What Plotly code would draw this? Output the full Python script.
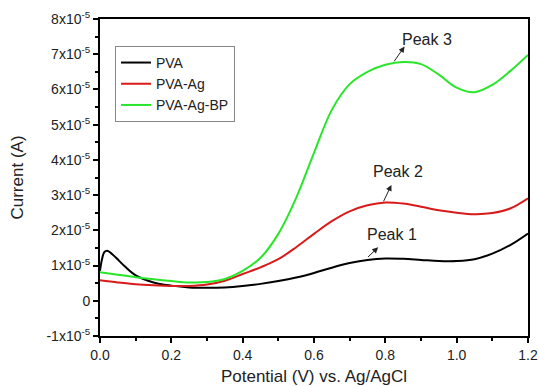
import plotly.graph_objects as go

# Current values are in units of 1e-5 A
pva_v = [0, 0.005, 0.012, 0.02, 0.03, 0.045, 0.07, 0.1, 0.15, 0.2, 0.25, 0.3, 0.35, 0.4, 0.45, 0.5, 0.55, 0.6, 0.65, 0.7, 0.75, 0.8, 0.85, 0.9, 0.95, 1.0, 1.05, 1.1, 1.15, 1.2]
pva_i = [0.85, 1.15, 1.38, 1.42, 1.36, 1.22, 0.97, 0.72, 0.52, 0.43, 0.38, 0.37, 0.38, 0.42, 0.48, 0.56, 0.66, 0.79, 0.94, 1.07, 1.16, 1.20, 1.19, 1.16, 1.13, 1.13, 1.18, 1.34, 1.58, 1.91]

ag_v = [0, 0.05, 0.1, 0.15, 0.2, 0.25, 0.3, 0.35, 0.4, 0.45, 0.5, 0.55, 0.6, 0.65, 0.7, 0.75, 0.8, 0.85, 0.9, 0.95, 1.0, 1.05, 1.1, 1.15, 1.2]
ag_i = [0.58, 0.52, 0.47, 0.44, 0.42, 0.42, 0.46, 0.57, 0.76, 0.95, 1.18, 1.52, 1.9, 2.26, 2.54, 2.71, 2.79, 2.76, 2.67, 2.57, 2.5, 2.46, 2.49, 2.62, 2.91]

bp_v = [0, 0.05, 0.1, 0.15, 0.2, 0.25, 0.3, 0.35, 0.4, 0.45, 0.5, 0.55, 0.6, 0.65, 0.7, 0.75, 0.8, 0.85, 0.9, 0.95, 1.0, 1.05, 1.1, 1.15, 1.2]
bp_i = [0.81, 0.74, 0.67, 0.61, 0.56, 0.52, 0.53, 0.62, 0.85, 1.22, 1.9, 2.92, 4.2, 5.42, 6.15, 6.5, 6.7, 6.78, 6.72, 6.42, 6.05, 5.92, 6.13, 6.52, 6.98]

y_ticks = [-1, 0, 1, 2, 3, 4, 5, 6, 7, 8]
y_ticktext = ["-1x10<sup>-5</sup>", "0", "1x10<sup>-5</sup>", "2x10<sup>-5</sup>", "3x10<sup>-5</sup>",
              "4x10<sup>-5</sup>", "5x10<sup>-5</sup>", "6x10<sup>-5</sup>", "7x10<sup>-5</sup>", "8x10<sup>-5</sup>"]
x_ticks = [0.0, 0.2, 0.4, 0.6, 0.8, 1.0, 1.2]
x_ticktext = ["0.0", "0.2", "0.4", "0.6", "0.8", "1.0", "1.2"]

peak_labels = ["Peak 1", "Peak 2", "Peak 3"]
peak_text_pos = [(0.818, 1.87), (0.836, 3.66), (0.916, 7.41)]
peak_arrow_tail = [(0.747, 1.2), (0.793, 2.78), (0.822, 6.76)]
peak_arrow_head = [(0.78, 1.52), (0.817, 3.29), (0.854, 7.22)]

FONT = "Liberation Sans, Arial, sans-serif"

fig = go.Figure()
fig.add_trace(go.Scatter(x=pva_v, y=pva_i, mode="lines", name="PVA",
                         line=dict(color="#000000", width=2, shape="spline", smoothing=1)))
fig.add_trace(go.Scatter(x=ag_v, y=ag_i, mode="lines", name="PVA-Ag",
                         line=dict(color="#d91a1a", width=2, shape="spline", smoothing=1)))
fig.add_trace(go.Scatter(x=bp_v, y=bp_i, mode="lines", name="PVA-Ag-BP",
                         line=dict(color="#2ae62a", width=2, shape="spline", smoothing=1)))

for lab, tp, tail, head in zip(peak_labels, peak_text_pos, peak_arrow_tail, peak_arrow_head):
    fig.add_annotation(x=tp[0], y=tp[1], text=lab, showarrow=False,
                       font=dict(family=FONT, size=16, color="#222"))
    fig.add_annotation(x=head[0], y=head[1], ax=tail[0], ay=tail[1], axref="x", ayref="y",
                       text="", showarrow=True, arrowhead=2, arrowsize=1.2, arrowwidth=1,
                       arrowcolor="#222")

axis_common = dict(showline=True, linecolor="black", linewidth=2, mirror=True,
                   ticks="outside", ticklen=5, tickwidth=2, tickcolor="black",
                   showgrid=False, zeroline=False, automargin=False,
                   tickfont=dict(family=FONT, size=14, color="#222"))

fig.update_xaxes(range=[0, 1.2], tickvals=x_ticks, ticktext=x_ticktext,
                 minor=dict(ticks="outside", ticklen=3, tickwidth=2, tickcolor="black", dtick=0.1, tick0=0),
                 title=dict(text="Potential (V) vs. Ag/AgCl", font=dict(family=FONT, size=17, color="#222"), standoff=8),
                 **axis_common)
fig.update_yaxes(range=[-1, 8], tickvals=y_ticks, ticktext=y_ticktext,
                 minor=dict(ticks="outside", ticklen=3, tickwidth=2, tickcolor="black", dtick=0.5, tick0=0),
                 title=dict(text="Current (A)", font=dict(family=FONT, size=17, color="#222"), standoff=19),
                 **axis_common)

fig.update_layout(
    width=539, height=386,
    margin=dict(l=100, r=11, t=19, b=50),
    plot_bgcolor="white", paper_bgcolor="white",
    showlegend=True,
    legend=dict(x=0.035, y=0.915, xanchor="left", yanchor="top",
                bgcolor="white", bordercolor="#888", borderwidth=1,
                font=dict(family=FONT, size=14, color="#222"),
                tracegroupgap=0, itemwidth=30),
)

fig.write_html("out.html", config={"displayModeBar": False},
               post_script="document.body.style.margin='0';document.body.style.overflow='hidden';")
